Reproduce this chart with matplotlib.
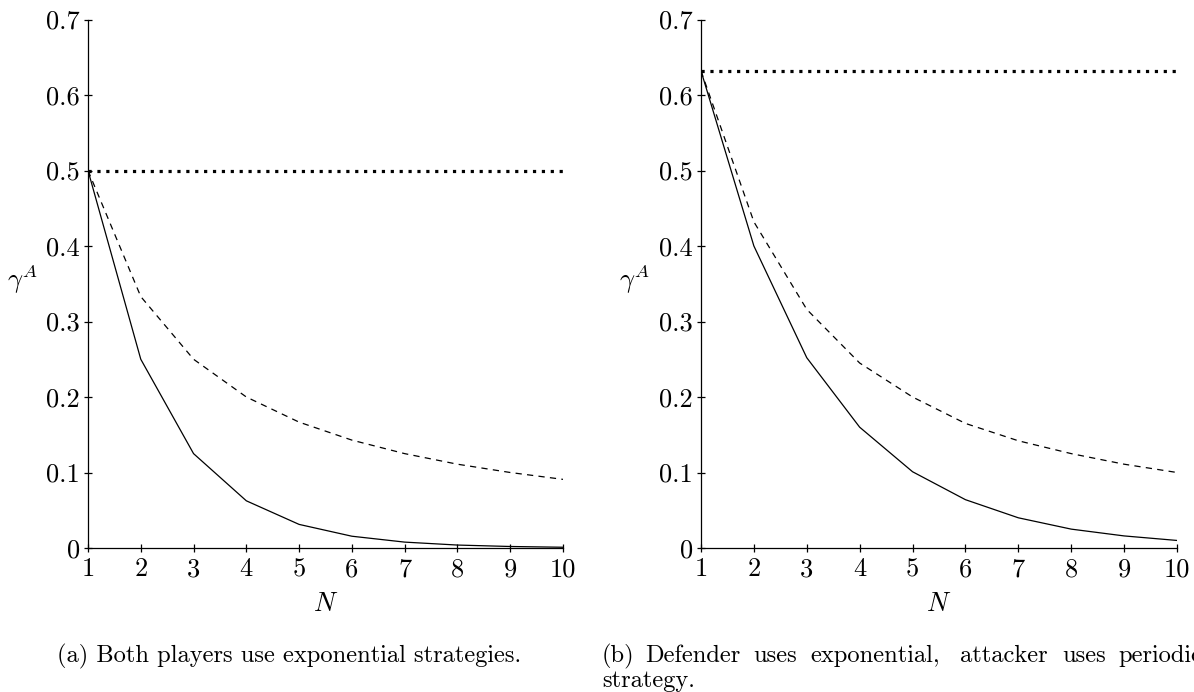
import matplotlib
matplotlib.use("Agg")
import matplotlib.pyplot as plt

plt.rcParams['font.family'] = 'cmr10'
plt.rcParams['mathtext.fontset'] = 'cm'
plt.rcParams['axes.formatter.use_mathtext'] = True
plt.rcParams['lines.scale_dashes'] = False

N = [1, 2, 3, 4, 5, 6, 7, 8, 9, 10]

# (a) both exponential
a_solid = [0.5, 0.25, 0.125, 0.0625, 0.03125, 0.0156, 0.0078, 0.0039, 0.002, 0.001]
a_dashed = [0.5, 0.333, 0.25, 0.2, 0.1667, 0.1429, 0.125, 0.111, 0.1, 0.0909]
a_dotted = 0.5

# (b) defender exponential, attacker periodic
b_solid = [0.632, 0.40, 0.252, 0.16, 0.101, 0.064, 0.040, 0.025, 0.016, 0.010]
b_dashed = [0.632, 0.432, 0.316, 0.245, 0.2, 0.165, 0.142, 0.125, 0.111, 0.1]
b_dotted = 0.632

yticks = [0, 0.1, 0.2, 0.3, 0.4, 0.5, 0.6, 0.7]
ytick_labels = ['0', '0.1', '0.2', '0.3', '0.4', '0.5', '0.6', '0.7']
xticks = N
xtick_labels = [str(v) for v in N]

W, H = 1194, 692
fig = plt.figure(figsize=(W/100, H/100), dpi=100)
FS = 19
CFS = 17.6

def setup(ax, solid, dashed, dotted):
    ax.plot(N, solid, color='black', lw=0.9)
    ax.plot(N, dashed, color='black', lw=0.9, dashes=(4.5, 3.8))
    ax.plot([N[0], N[-1]], [dotted, dotted], color='black', lw=2.3,
            dashes=(2.3, 4.1), dash_capstyle='butt')
    ax.set_xlim(1, 10)
    ax.set_ylim(0, 0.7)
    ax.set_xticks(xticks)
    ax.set_xticklabels(xtick_labels)
    ax.set_yticks(yticks)
    ax.set_yticklabels(ytick_labels)
    for s in ['top', 'right']:
        ax.spines[s].set_visible(False)
    for s in ['left', 'bottom']:
        ax.spines[s].set_linewidth(0.9)
    ax.tick_params(direction='inout', length=6, width=0.9, labelsize=FS)
    ax.tick_params(axis='x', pad=4)
    ax.tick_params(axis='y', pad=3)
    ax.set_xlabel('$N$', fontsize=FS, labelpad=8)
    ax.set_ylabel(r'$\gamma^A$', fontsize=FS, rotation=0, ha='center', va='center')
    ax.yaxis.set_label_coords(-0.139, 0.51)

top, bottom = 19.5, 548
ax1 = fig.add_axes([88/W, 1-bottom/H, 475/W, (bottom-top)/H])
setup(ax1, a_solid, a_dashed, a_dotted)
ax2 = fig.add_axes([701/W, 1-bottom/H, 476/W, (bottom-top)/H])
setup(ax2, b_solid, b_dashed, b_dotted)

fig.text(57/W, 1-662/H, '(a) Both players use exponential strategies.',
         fontsize=CFS, va='baseline', ha='left')
words = ['(b)', 'Defender', 'uses', 'exponential,', 'attacker', 'uses', 'periodic']
wx = [602, 645, 753, 810, 960, 1062, 1118]
for w, x in zip(words, wx):
    fig.text(x/W, 1-662/H, w, fontsize=CFS, va='baseline', ha='left')
fig.text(602/W, 1-687/H, 'strategy.', fontsize=CFS, va='baseline', ha='left')

fig.savefig('out.png', dpi=100)
